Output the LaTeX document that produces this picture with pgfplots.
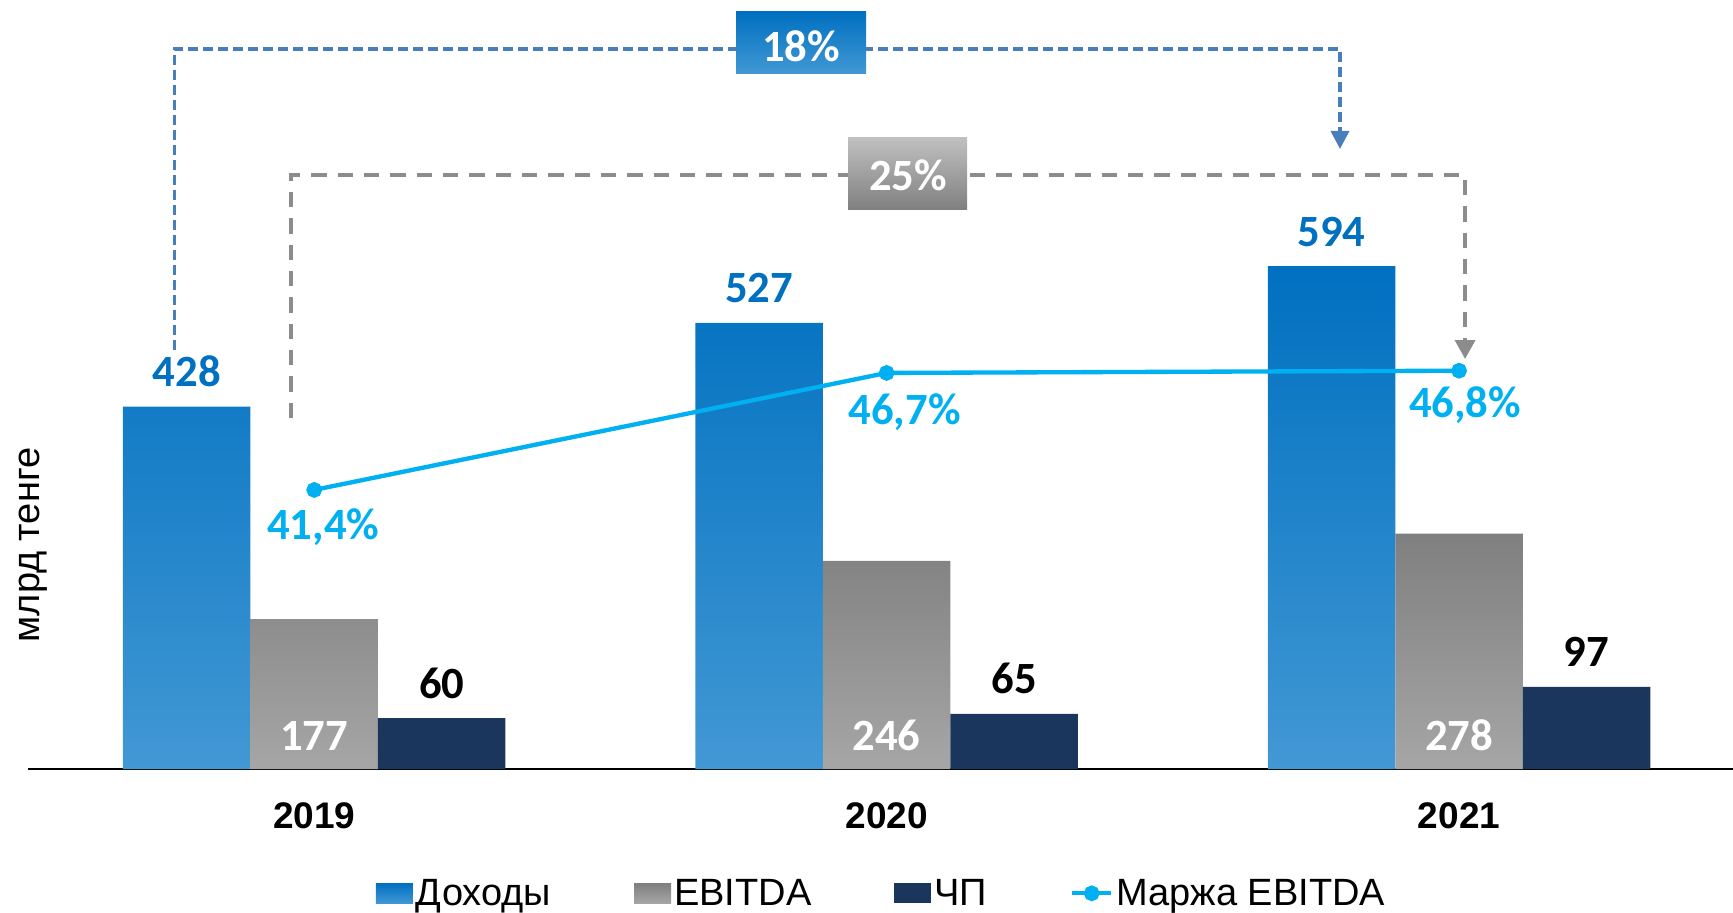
\documentclass[border=0pt]{standalone}
\usepackage{fontspec}
\setmainfont{Liberation Sans}
\newfontfamily\calfont{Carlito}
\usepackage{pgfplots}
\pgfplotsset{compat=1.18}
\usetikzlibrary{arrows.meta}
\definecolor{revA}{RGB}{0,112,192}
\definecolor{revB}{RGB}{66,152,212}
\definecolor{ebA}{RGB}{127,127,127}
\definecolor{ebB}{RGB}{166,166,166}
\definecolor{np}{RGB}{27,54,93}
\definecolor{mar}{RGB}{0,176,240}
\definecolor{dblue}{RGB}{74,126,187}
\definecolor{dgray}{RGB}{140,140,140}
\definecolor{bgA}{RGB}{192,192,192}
\definecolor{bgB}{RGB}{128,128,128}
\newcommand\lbl{\calfont\bfseries\fontsize{13.4pt}{16pt}\selectfont}
\newcommand\arf{\fontsize{11.1pt}{13pt}\selectfont}
\newcommand\arl{\fontsize{11.4pt}{13pt}\selectfont}
\pgfplotsset{marlegend/.style={legend image code/.code={\draw[##1] plot coordinates {(0pt,3.6pt) (5.85pt,3.6pt) (11.7pt,3.6pt)};}}}

\begin{document}
\begin{tikzpicture}
\begin{axis}[
  scale only axis, width=511.5pt, height=230.7pt,
  xmin=-0.5, xmax=2.4786, ymin=0, ymax=908.4,
  axis x line*=bottom, axis y line=none,
  x axis line style={line width=0.7pt, black, -},
  xtick={0,1,2}, xticklabels={2019,2020,2021},
  major tick length=0pt, xtick style={draw=none},
  xticklabel style={font=\arf\bfseries, anchor=base, yshift=-17.7pt, inner sep=0pt},
  ytick=\empty,
  clip=false,
  legend columns=4,
  legend style={draw=none, fill=none, inner sep=0pt, at={(rel axis cs:0.5,0)}, anchor=north, yshift=-32.85pt, font=\arl, column sep=0pt,
    /tikz/every odd column/.append style={column sep=0.9pt},
    /tikz/every even column/.append style={column sep=24.9pt},
    cells={anchor=base west}, nodes={inner sep=0pt}},
  legend image code/.code={\fill[#1] (0pt,0.6pt) rectangle (11.1pt,6.6pt);},
]
\coordinate (TL) at (rel axis cs:0,1);
\coordinate (BR) at (rel axis cs:1,0);
% connectors
\draw[dblue, line width=1.05pt, dash pattern=on 3pt off 1.5pt, -{Triangle[length=5.4pt,width=5.4pt]}]
  (axis cs:-0.2445,495) -- (axis cs:-0.2445,850.5) -- (axis cs:1.792,850.5) -- (axis cs:1.792,732.4);
\draw[dgray, line width=1.1pt, dash pattern=on 4.6pt off 3.3pt, -{Triangle[length=5.7pt,width=6pt]}]
  (axis cs:-0.0402,414.6) -- (axis cs:-0.0402,701.7) -- (axis cs:2.0105,701.7) -- (axis cs:2.0105,484.3);
\fill[top color=revA, bottom color=revB] (axis cs:0.7371,894.3) rectangle (axis cs:0.9642,821.0);
\node[font=\lbl, text=white, anchor=base, inner sep=0pt] at (axis cs:0.8507,835.2) {18\%};
\fill[top color=bgA, bottom color=bgB] (axis cs:0.9328,745.4) rectangle (axis cs:1.1406,661.5);
\node[font=\lbl, text=white, anchor=base, inner sep=0pt] at (axis cs:1.0376,682.8) {25\%};

\addplot[ybar, bar width=38.25pt, bar shift=-38.25pt, draw=none, top color=revA, bottom color=revB]
  coordinates {(0,428) (1,527) (2,594)};
\addplot[ybar, bar width=38.25pt, bar shift=0pt, draw=none, top color=ebA, bottom color=ebB]
  coordinates {(0,177) (1,246) (2,278)};
\addplot[ybar, bar width=38.25pt, bar shift=38.25pt, draw=none, fill=np]
  coordinates {(0,60) (1,65) (2,97)};
\addlegendimage{mar, line width=1.3pt, mark=*, mark size=1.7pt, mark repeat=2, mark phase=2, marlegend}
\legend{Доходы, EBITDA, ЧП, Маржа EBITDA}

% value labels
\node[font=\lbl, text=revA, anchor=base, inner sep=0pt] at ([xshift=-38.25pt, yshift=6pt]axis cs:0,428) {428};
\node[font=\lbl, text=revA, anchor=base, inner sep=0pt] at ([xshift=-38.25pt, yshift=6pt]axis cs:1,527) {527};
\node[font=\lbl, text=revA, anchor=base, inner sep=0pt] at ([xshift=-38.25pt, yshift=6pt]axis cs:2,594) {594};
\node[font=\lbl, text=white, anchor=base, inner sep=0pt] at ([yshift=5.7pt]axis cs:0,0) {177};
\node[font=\lbl, text=white, anchor=base, inner sep=0pt] at ([yshift=5.7pt]axis cs:1,0) {246};
\node[font=\lbl, text=white, anchor=base, inner sep=0pt] at ([yshift=5.7pt]axis cs:2,0) {278};
\node[font=\lbl, text=black, anchor=base, inner sep=0pt] at ([xshift=38.25pt, yshift=6pt]axis cs:0,60) {60};
\node[font=\lbl, text=black, anchor=base, inner sep=0pt] at ([xshift=38.25pt, yshift=6pt]axis cs:1,65) {65};
\node[font=\lbl, text=black, anchor=base, inner sep=0pt] at ([xshift=38.25pt, yshift=6pt]axis cs:2,97) {97};
\node[font=\arl, rotate=90, anchor=center, inner sep=0pt] at ([xshift=1.5pt]rel axis cs:0,0.2913) {млрд тенге};
\end{axis}
\begin{axis}[
  scale only axis, width=511.5pt, height=230.7pt,
  xmin=-0.5, xmax=2.4786, ymin=28.76, ymax=63.59,
  axis lines=none, ticks=none, clip=false,
]
\addplot[mar, line width=1.3pt, mark=*, mark size=1.7pt] coordinates {(0,41.4) (1,46.7) (2,46.8)};
\node[font=\lbl, text=mar, anchor=base, inner sep=0pt] at ([xshift=2.7pt, yshift=-15pt]axis cs:0,41.4) {41,4\%};
\node[font=\lbl, text=mar, anchor=base, inner sep=0pt] at ([xshift=5.4pt, yshift=-15.6pt]axis cs:1,46.7) {46,7\%};
\node[font=\lbl, text=mar, anchor=base, inner sep=0pt] at ([xshift=1.8pt, yshift=-14.1pt]axis cs:2,46.8) {46,8\%};
\end{axis}
\pgfresetboundingbox
\path[use as bounding box] ([xshift=-8.4pt]TL) rectangle ([yshift=-42.9pt]BR);
\end{tikzpicture}
\end{document}
